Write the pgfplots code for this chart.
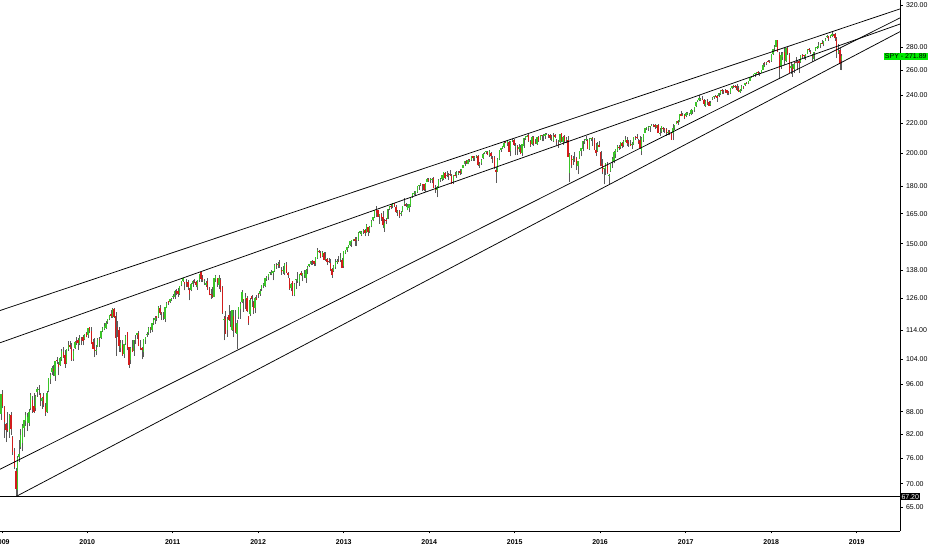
\documentclass[border=0pt]{standalone}
\usepackage{fontspec}
\setmainfont{Liberation Sans}
\usepackage{pgfplots}
\usepackage{pgfplotstable}
\pgfplotsset{compat=1.18}

\definecolor{candleup}{RGB}{58,196,40}
\definecolor{candledn}{RGB}{210,28,28}
\definecolor{wick}{RGB}{90,90,90}
\definecolor{tvgreen}{RGB}{0,235,0}

% SPY weekly candles, first row = week of 22 Dec 2008, last = week of 29 Oct 2018
\pgfplotstableread{
o h l c
88.6 88.9 85.7 87.3
87.4 93.0 85.8 93.0
93.0 94.3 88.9 89.5
89.2 89.6 80.9 85.1
84.7 85.0 79.9 83.0
83.3 88.0 82.4 82.8
82.4 87.3 81.0 87.0
87.0 87.8 81.8 83.2
81.2 81.5 76.8 77.4
77.7 78.5 73.3 73.9
72.9 73.6 67.2 68.8
68.6 76.4 67.5 75.9
76.2 80.4 74.9 77.0
78.7 83.2 78.2 81.6
79.8 84.6 77.6 84.2
83.5 85.8 81.1 85.6
85.3 87.8 84.1 87.0
85.0 87.5 82.7 86.6
85.0 88.8 84.2 88.0
89.0 93.4 88.4 92.9
91.3 92.6 87.7 88.5
89.6 93.3 87.7 88.0
89.0 92.7 88.3 92.5
93.6 95.1 92.3 94.6
94.3 95.9 92.8 94.7
93.2 93.4 89.5 92.0
91.0 92.3 88.8 91.8
92.5 93.5 89.4 89.8
89.7 90.4 86.8 87.6
87.8 94.0 87.6 93.5
94.0 98.0 93.6 97.9
97.7 99.4 96.2 98.8
99.8 101.8 99.0 101.0
100.6 101.9 98.5 100.2
98.5 103.5 97.1 103.4
103.6 104.7 102.3 103.5
102.5 102.9 98.7 101.4
102.0 104.6 101.8 104.4
103.9 107.3 103.5 106.7
106.5 107.9 104.3 104.7
105.2 107.1 101.2 102.5
102.7 107.4 102.3 107.3
107.3 110.0 106.6 108.9
108.9 110.1 107.3 108.0
108.2 109.3 103.4 103.6
104.0 107.3 103.4 106.7
107.6 110.0 107.4 109.6
110.0 111.6 108.9 109.5
110.6 111.0 107.1 109.3
109.1 112.3 108.6 111.1
110.9 111.5 108.7 110.6
111.6 112.2 108.6 110.2
110.8 112.5 110.4 112.5
112.9 113.2 111.4 111.4
112.4 114.6 111.2 114.6
115.0 115.1 112.9 113.6
113.8 115.1 109.0 109.2
109.7 110.9 107.2 107.4
108.2 111.1 104.6 106.7
106.7 108.7 105.2 107.0
108.1 111.2 107.9 110.9
110.9 111.5 108.1 110.7
111.2 113.7 110.9 113.6
113.6 115.1 113.3 114.9
114.5 116.5 113.9 115.6
114.8 117.5 114.3 116.6
116.8 118.2 116.4 118.1
117.9 119.6 117.6 119.5
119.8 121.5 118.6 119.4
118.9 122.1 118.6 121.8
122.0 122.1 118.5 118.8
119.4 120.7 105.0 111.3
115.0 117.3 111.6 113.9
114.1 115.3 106.4 108.5
107.8 110.6 106.2 109.4
108.9 110.3 105.0 105.3
105.8 109.2 104.4 109.1
109.5 112.2 108.7 112.0
113.2 113.3 107.0 107.8
107.9 108.0 101.1 102.2
103.8 107.9 102.3 107.8
107.8 110.3 106.3 106.3
106.7 110.5 105.0 110.4
110.8 112.2 109.0 110.9
112.4 113.1 110.9 112.8
113.0 113.6 108.3 108.4
108.1 110.6 106.9 107.5
107.8 108.0 103.9 106.9
106.5 110.9 104.6 110.8
110.4 111.5 109.2 111.4
112.4 113.2 111.6 112.7
113.0 115.0 112.3 114.6
114.8 115.2 112.9 114.5
114.0 116.6 113.2 116.5
116.6 118.4 115.9 117.7
117.6 119.2 116.2 118.4
119.3 119.4 117.3 118.5
119.0 122.9 118.5 122.8
122.3 123.5 119.7 120.4
120.5 120.9 117.7 119.9
119.4 120.6 117.8 118.8
118.2 122.8 116.9 122.7
122.3 124.5 122.1 124.4
124.9 125.1 123.6 124.3
124.6 126.0 124.4 125.9
125.5 126.2 125.2 125.8
126.7 127.7 125.8 127.1
126.6 129.3 126.0 129.2
129.1 129.7 127.3 128.4
128.9 130.3 126.8 127.7
127.9 131.3 127.6 131.2
131.4 133.4 131.0 133.3
133.3 134.7 132.8 134.4
132.8 132.9 129.3 132.0
132.7 134.1 130.9 132.3
132.8 133.5 129.3 130.8
129.8 130.2 125.3 127.8
129.6 132.2 128.9 131.9
131.9 133.6 130.8 133.4
133.4 134.1 132.2 132.9
132.9 133.1 130.6 131.6
130.6 133.6 129.6 133.5
133.6 136.4 133.0 136.3
137.2 137.3 132.8 134.1
134.3 135.9 132.9 133.7
133.2 134.0 131.5 133.4
131.7 133.3 130.8 132.2
133.3 134.6 129.4 129.7
129.8 130.6 127.3 127.6
128.0 129.8 125.9 127.7
127.4 130.8 126.3 126.6
126.8 134.6 126.6 134.4
133.9 135.7 133.0 135.4
134.3 134.7 130.8 132.3
131.7 135.7 129.7 134.5
133.7 134.5 128.6 129.3
130.8 131.3 119.9 120.2
117.7 119.4 110.3 117.9
118.9 121.0 112.6 112.7
114.1 119.0 111.6 118.1
119.6 123.6 117.5 117.8
115.7 121.3 115.0 115.6
114.2 121.5 113.7 121.4
119.4 121.7 111.4 113.9
115.2 121.4 113.0 113.2
112.6 117.7 107.4 116.7
118.9 122.6 118.2 122.5
122.0 124.5 118.2 123.9
124.5 129.5 124.1 128.6
125.8 126.0 120.9 125.4
125.7 128.3 122.0 126.6
126.2 127.2 120.7 121.2
119.2 119.4 115.9 116.6
119.9 126.3 119.2 125.6
126.9 127.4 122.8 126.0
124.6 125.2 120.1 121.6
122.2 126.5 120.2 126.4
126.2 127.4 125.3 125.5
127.8 128.4 126.4 127.6
127.7 129.7 127.2 129.1
129.9 131.5 129.0 131.4
131.4 132.3 130.2 132.0
131.2 134.4 130.6 134.3
134.0 135.2 133.4 134.4
135.1 136.4 133.5 136.3
136.6 137.2 135.9 136.9
136.2 137.8 135.6 137.3
136.8 137.7 133.5 137.6
137.6 140.7 137.1 140.3
140.2 141.0 138.6 139.6
140.6 141.6 139.0 140.8
140.6 142.2 139.0 139.8
138.0 139.3 135.9 137.1
137.4 139.8 136.2 137.9
136.7 140.9 135.8 140.4
140.3 141.4 136.7 136.8
136.5 137.3 134.4 135.7
134.3 134.7 129.6 129.7
130.1 132.4 128.9 131.8
133.2 133.4 127.1 127.5
127.6 132.2 126.9 132.1
133.9 134.2 129.8 134.1
133.6 137.2 132.5 133.7
132.7 136.3 131.2 136.1
136.5 137.6 135.3 135.7
135.2 136.6 133.1 136.5
135.9 138.0 134.5 136.4
134.7 138.3 132.5 138.1
138.2 139.7 136.0 139.4
139.8 140.7 139.2 140.6
140.4 142.0 140.1 141.9
141.9 142.6 140.2 141.5
141.8 142.0 139.6 140.7
141.1 143.9 139.9 143.8
143.5 148.1 142.9 146.9
146.6 147.2 145.6 145.9
145.6 146.5 143.1 143.6
144.1 146.4 143.6 146.1
145.6 145.9 142.3 142.6
143.0 146.1 142.1 143.4
143.0 143.2 140.1 141.4
141.9 143.5 140.9 141.3
141.0 143.0 137.5 138.1
138.5 138.9 134.7 135.6
137.4 140.0 137.1 139.9
139.4 142.7 138.6 141.5
141.6 142.7 140.5 142.0
142.1 144.0 141.5 141.9
142.7 145.6 141.6 143.4
142.5 143.4 138.9 139.0
139.7 146.6 139.0 146.4
145.8 147.2 145.3 147.1
146.9 148.3 146.3 148.2
148.4 149.5 147.9 149.4
149.4 151.3 148.9 151.2
150.6 151.9 148.3 151.8
151.7 152.3 151.2 152.1
152.3 153.3 149.0 151.3
151.9 153.0 148.7 152.1
151.8 155.5 151.5 155.4
155.2 156.3 154.9 156.0
154.3 156.1 153.6 155.6
156.0 157.0 154.6 156.7
156.6 157.2 153.5 155.2
155.3 159.7 155.2 159.0
158.0 158.2 153.6 155.5
156.0 158.6 155.4 158.2
158.5 161.9 157.9 161.4
161.6 163.5 161.0 163.4
163.0 167.1 162.8 166.9
166.9 169.1 163.5 165.3
166.8 167.0 163.4 163.5
164.0 164.9 159.7 164.8
164.7 165.4 161.4 162.7
163.5 166.2 157.4 159.0
157.4 162.0 155.7 160.4
161.7 162.7 159.8 161.2
162.2 167.5 162.1 167.4
167.6 169.2 166.8 169.1
169.3 169.9 167.4 169.0
168.9 170.8 167.8 170.7
170.5 170.8 168.4 168.9
168.6 169.8 165.5 165.8
165.6 166.8 163.7 166.6
166.5 167.0 162.9 163.6
165.2 166.4 163.6 165.5
166.0 169.2 165.9 168.9
170.2 173.6 169.2 170.7
170.3 170.6 168.3 169.1
167.1 169.9 166.7 169.2
168.0 170.3 165.7 170.2
169.1 173.8 168.5 173.7
174.2 176.0 173.6 175.9
176.0 177.2 174.9 176.2
176.4 177.4 174.3 177.3
176.9 180.1 176.3 180.0
180.3 180.8 178.1 180.7
180.8 181.8 180.1 181.0
181.0 181.1 177.3 180.9
181.1 181.4 177.3 177.7
178.6 181.8 176.9 181.6
182.4 184.7 182.3 184.2
184.1 184.7 182.5 183.0
183.5 184.5 181.8 184.1
183.7 184.9 181.6 184.4
185.0 185.2 179.0 179.1
178.7 180.7 176.3 178.2
177.9 179.9 173.7 179.7
179.7 184.0 179.1 183.7
183.8 184.9 182.6 183.9
184.3 186.7 183.3 186.3
184.4 188.3 183.8 188.2
187.8 188.4 184.3 184.7
186.2 188.9 185.3 186.4
186.8 187.7 183.8 185.9
187.2 189.7 186.2 186.4
186.0 187.4 181.3 181.5
182.8 186.5 181.2 186.4
186.4 188.5 185.8 186.3
186.5 189.0 184.8 188.3
187.5 189.1 186.5 187.9
188.9 190.1 186.5 188.0
187.7 190.4 186.9 190.3
191.0 192.8 190.9 192.7
192.9 195.0 192.0 194.9
195.2 195.6 193.2 193.5
193.1 196.1 192.9 195.9
196.2 196.5 194.3 195.8
195.7 198.3 195.0 198.2
197.9 198.1 195.1 196.6
197.5 198.1 195.1 197.7
197.3 198.9 196.8 197.9
198.0 198.7 191.9 192.5
193.0 194.2 190.6 193.2
193.9 196.2 192.6 195.7
196.8 199.8 196.2 199.1
200.1 200.8 199.2 200.7
200.9 201.3 199.4 201.1
200.9 201.2 198.7 198.8
198.7 201.9 197.8 201.0
200.1 200.4 196.3 197.9
196.7 197.9 193.5 196.5
197.3 197.9 190.4 190.5
189.8 191.4 181.9 188.5
188.5 196.6 188.3 196.4
196.0 201.8 195.6 201.7
201.9 203.4 200.7 203.2
203.4 204.5 202.7 204.2
203.9 207.0 203.2 206.7
207.3 207.8 206.4 207.2
206.3 208.5 204.7 208.0
207.4 207.5 200.8 200.9
201.1 207.6 197.9 207.5
207.9 208.9 207.4 208.7
208.5 208.8 204.6 205.4
204.2 206.2 198.6 204.3
204.4 205.1 198.6 201.6
202.4 206.0 200.4 204.0
203.4 205.4 199.1 199.4
200.1 206.0 197.9 205.6
204.3 209.8 203.5 209.7
209.4 211.0 208.6 210.9
210.8 212.0 210.2 211.4
211.6 212.2 207.4 207.5
207.7 208.4 204.1 205.1
206.0 211.0 204.9 210.4
210.6 211.3 204.8 205.7
206.8 209.4 205.7 206.4
205.5 210.4 205.4 210.3
210.3 211.1 207.3 207.9
208.4 211.8 208.2 211.7
211.8 212.1 207.5 210.8
211.4 212.5 207.7 211.6
211.3 213.0 209.2 212.4
212.2 213.4 211.8 212.7
212.0 212.2 210.0 211.1
211.6 212.3 208.7 209.8
209.5 212.0 207.8 209.1
208.0 212.9 207.2 210.8
211.8 212.7 209.5 210.5
208.1 208.8 205.3 207.3
206.0 208.2 203.5 204.9
206.8 212.6 206.7 212.5
212.8 212.9 207.3 207.5
207.3 211.0 205.3 210.5
210.8 211.5 206.7 207.9
209.3 210.7 206.2 209.4
208.7 211.3 197.5 197.6
188.0 199.8 182.4 199.3
198.1 198.7 190.6 192.6
195.9 198.4 192.7 196.5
196.0 200.8 194.3 195.5
196.6 197.7 189.5 192.9
191.8 195.1 187.0 195.0
196.5 201.5 196.4 201.3
201.4 203.3 197.9 203.2
202.5 207.9 201.0 207.5
207.3 209.4 205.9 207.9
208.3 211.0 207.6 209.3
208.6 208.8 202.3 202.5
202.3 209.6 202.2 209.3
209.4 209.8 207.9 209.6
209.8 210.6 204.5 209.5
208.7 209.7 201.8 201.9
202.1 206.2 198.0 200.0
201.4 207.0 200.8 206.0
204.9 208.0 203.8 203.9
200.5 201.0 191.8 192.0
193.0 196.0 186.9 188.1
189.9 191.0 181.0 190.5
190.0 193.8 186.7 193.7
192.5 194.6 186.9 188.0
186.0 187.2 181.1 186.6
188.8 193.3 188.5 192.9
194.3 197.4 190.8 196.0
195.0 201.0 193.5 200.4
199.4 202.8 197.1 202.7
201.5 204.9 200.9 204.4
204.1 205.2 202.0 203.1
203.6 207.0 202.8 206.9
206.3 206.9 202.9 204.5
205.2 208.3 203.9 207.8
207.3 210.9 206.9 209.0
208.7 210.5 204.4 206.3
206.9 208.2 203.9 205.7
205.6 208.5 204.4 204.8
204.9 207.4 202.8 205.5
205.9 210.3 205.4 210.2
210.6 211.1 208.6 210.3
210.7 212.5 209.0 209.9
208.0 209.2 205.8 206.5
208.4 210.9 202.7 203.2
201.2 210.5 198.7 209.5
208.5 212.6 207.4 212.5
213.2 216.7 213.1 216.4
216.3 217.4 215.2 217.2
216.9 217.6 214.8 217.1
217.2 218.2 213.9 218.1
218.4 219.1 217.7 218.5
218.8 219.5 217.0 218.5
218.3 219.1 216.1 217.3
217.4 218.6 216.4 218.4
218.9 219.2 213.2 213.3
212.4 216.3 211.2 213.4
214.1 218.0 212.9 217.7
216.4 217.5 214.1 216.3
215.8 216.4 213.3 215.0
216.0 216.5 211.2 213.1
213.0 215.2 211.6 214.0
214.6 215.1 211.5 212.5
212.9 213.2 208.3 208.6
212.9 219.5 208.4 216.4
216.4 218.8 215.3 218.5
219.4 221.6 219.1 221.5
221.2 221.8 218.9 219.7
220.6 226.5 220.4 226.4
226.4 228.3 224.8 225.0
225.3 227.1 224.7 225.7
226.0 226.7 222.7 223.5
225.0 227.8 223.9 227.2
226.9 228.0 225.9 227.1
226.3 227.4 225.0 226.7
226.7 229.7 225.3 229.3
228.2 229.6 226.6 229.1
229.0 231.8 228.0 231.5
231.9 235.4 231.8 235.3
236.0 236.7 235.2 236.6
236.4 240.3 235.6 238.4
237.5 238.0 235.8 237.7
237.6 239.4 236.5 237.0
237.0 237.4 232.5 233.9
231.9 236.5 231.6 235.7
235.8 237.3 233.1 235.2
235.4 236.0 232.4 232.5
233.1 235.6 232.3 234.6
237.2 238.9 236.8 238.1
238.7 239.7 237.5 239.6
239.8 240.2 238.8 239.0
239.5 240.7 235.4 238.3
239.3 241.9 238.9 241.7
241.3 244.4 240.5 244.2
244.0 245.0 241.0 243.4
242.9 244.6 241.2 242.6
244.0 244.9 242.3 243.1
243.9 244.4 240.8 241.8
242.9 243.4 240.2 242.1
242.1 245.6 241.5 245.5
245.5 247.2 245.0 247.1
247.2 248.0 245.6 246.9
247.4 247.9 246.1 247.3
247.5 248.9 243.7 244.1
245.6 247.8 242.6 242.7
242.6 245.3 242.1 244.6
244.0 247.9 243.8 247.8
247.0 247.5 244.9 246.6
248.0 250.1 247.8 250.0
250.1 250.5 248.8 250.0
249.7 251.2 248.9 251.1
251.5 254.6 251.4 254.4
254.6 255.3 254.0 254.9
255.2 257.1 254.8 257.0
257.5 257.9 254.9 257.7
257.2 258.9 256.3 258.7
258.3 259.4 256.3 258.1
257.3 258.6 255.4 257.9
257.9 260.5 257.8 260.4
260.4 266.1 260.3 264.5
266.3 266.8 262.6 265.5
265.6 267.3 264.1 266.5
268.1 268.6 266.9 267.5
267.1 268.6 266.6 266.9
267.8 274.1 267.4 274.0
274.0 278.2 273.0 277.9
279.4 282.0 276.2 280.4
280.2 286.7 279.9 286.6
285.9 286.4 275.3 275.5
273.5 275.8 252.9 261.5
263.8 275.6 261.5 273.1
271.7 275.2 268.6 274.7
275.9 279.0 264.8 269.1
267.7 279.0 267.3 278.9
279.2 280.4 273.2 274.2
273.4 275.0 257.9 258.1
262.1 265.8 256.9 263.2
262.6 265.7 254.7 259.7
261.4 267.3 258.2 265.2
267.0 271.3 265.8 266.6
267.3 268.6 260.0 266.4
267.6 268.3 257.8 266.0
266.9 273.1 266.0 272.9
272.8 274.2 270.3 271.3
272.7 273.4 269.3 272.2
270.0 273.9 268.4 273.6
274.0 278.4 273.5 278.2
278.4 279.5 275.4 277.1
275.5 277.3 273.5 274.7
272.2 273.7 267.2 271.3
269.5 275.5 268.5 275.4
276.6 279.9 276.2 279.6
279.6 281.2 278.6 279.7
279.5 284.4 278.9 281.4
281.5 284.0 279.2 283.6
283.6 286.1 282.9 283.2
283.0 285.6 280.6 285.1
285.6 287.7 285.0 287.5
288.8 291.2 288.0 290.3
289.8 290.2 285.8 287.6
288.7 291.1 287.7 290.9
290.4 293.9 288.9 292.0
291.3 292.2 289.6 290.7
292.1 293.2 285.6 287.8
287.1 288.9 270.4 275.9
274.9 283.0 273.8 276.3
277.0 278.9 260.3 265.3
268.8 273.8 259.9 271.9
}\candles

\begin{document}
\begin{tikzpicture}
\path[use as bounding box] (0,0) rectangle (932pt,550pt);
\begin{axis}[
    at={(0pt,19pt)}, anchor=south west,
    scale only axis, width=900pt, height=531pt,
    xmin=-0.67, xmax=548.6,
    ymode=log, ymin=60.25, ymax=325.1,
    axis x line*=bottom, axis y line*=right,
    axis line style={line width=0.9pt, black},
    clip=false,
    xtick={0.43,52.57,104.71,156.86,209.14,261.29,313.43,365.57,417.86,470.0,522.14},
    xticklabels={2009,2010,2011,2012,2013,2014,2015,2016,2017,2018,2019},
    ytick={65,70,76,82,88,96,104,114,126,138,150,165,180,200,220,240,260,280,320},
    yticklabels={65.00,70.00,76.00,82.00,88.00,96.00,104.00,114.00,126.00,138.00,150.00,165.00,180.00,200.00,220.00,240.00,260.00,280.00,320.00},
    xminorticks=false, yminorticks=false,
    tick align=outside, major tick length=2.5pt,
    tick style={black, line width=0.6pt},
    xticklabel style={font=\fontsize{7}{8}\selectfont\bfseries, yshift=-3pt},
    yticklabel style={font=\fontsize{7}{8}\selectfont},
  ]
  % wicks
  \addplot[draw=none, mark=none,
    error bars/.cd, y dir=plus, y explicit,
    error mark=none, error bar style={draw=wick, line width=0.55pt}]
    table[x expr=\coordindex-1, y=l, y error plus expr=\thisrow{h}-\thisrow{l}] {\candles};
  % rising bodies
  \addplot[draw=none, mark=none,
    error bars/.cd, y dir=plus, y explicit,
    error mark=none, error bar style={draw=candleup, line width=1.35pt}]
    table[x expr={\thisrow{c}>=\thisrow{o} ? \coordindex-1 : nan},
          y expr={min(\thisrow{o},\thisrow{c})},
          y error plus expr={abs(\thisrow{c}-\thisrow{o})}] {\candles};
  % falling bodies
  \addplot[draw=none, mark=none,
    error bars/.cd, y dir=plus, y explicit,
    error mark=none, error bar style={draw=candledn, line width=1.35pt}]
    table[x expr={\thisrow{c}<\thisrow{o} ? \coordindex-1 : nan},
          y expr={min(\thisrow{o},\thisrow{c})},
          y error plus expr={abs(\thisrow{c}-\thisrow{o})}] {\candles};
  % trend lines
  \addplot[black, line width=0.75pt] coordinates {(-0.67,121.3) (548.6,316.0)};
  \addplot[black, line width=0.75pt] coordinates {(-0.67,109.5) (548.6,301.2)};
  \addplot[black, line width=0.75pt] coordinates {(-0.67,73.3) (548.6,307.1)};
  \addplot[black, line width=0.75pt] coordinates {(9,67.2) (548.6,294.0)};
  \addplot[black, line width=0.9pt] coordinates {(-0.67,67.2) (548.6,67.2)};
  % price labels
  \node[fill=black, text=white, font=\fontsize{7}{8}\selectfont, inner sep=1.3pt, anchor=west]
    at (axis cs:548.6,67.2) {67.20};
  \node[fill=tvgreen, text=black, font=\fontsize{7}{8}\selectfont, inner sep=1.2pt, anchor=east]
    at (axis cs:548.6,271.89) [xshift=28pt] {SPY - 271.89};
\end{axis}
\end{tikzpicture}
\end{document}
